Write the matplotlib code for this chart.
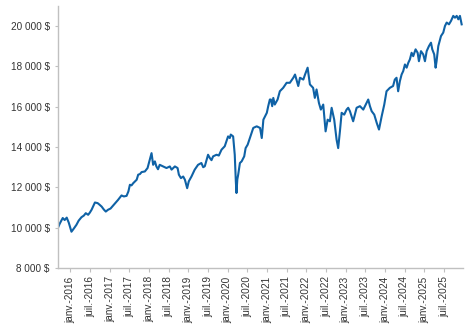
import matplotlib
matplotlib.use("Agg")
import matplotlib.pyplot as plt
import matplotlib.ticker as mticker
import pandas as pd

# Portfolio value over time (growth of 10 000 $)
dates = [
    "2015-09-07", "2015-09-23", "2015-10-21", "2015-11-08", "2015-11-27", "2015-12-16",
    "2016-01-10", "2016-01-31", "2016-02-25", "2016-03-17", "2016-04-12", "2016-05-04",
    "2016-05-22", "2016-06-13", "2016-06-29", "2016-07-15", "2016-08-15", "2016-09-09",
    "2016-09-25", "2016-10-16", "2016-11-06", "2016-11-24", "2016-12-15", "2017-01-07",
    "2017-01-31", "2017-02-25", "2017-03-18", "2017-04-19", "2017-05-11", "2017-06-05",
    "2017-06-22", "2017-07-06", "2017-07-21", "2017-08-06", "2017-09-07", "2017-09-21",
    "2017-10-07", "2017-10-23", "2017-11-22", "2017-12-17", "2018-01-07", "2018-01-23",
    "2018-02-07", "2018-02-23", "2018-03-09", "2018-03-24", "2018-04-09", "2018-05-10",
    "2018-06-11", "2018-07-12", "2018-07-28", "2018-08-28", "2018-09-22", "2018-10-04",
    "2018-10-23", "2018-11-13", "2018-11-29", "2018-12-20", "2019-01-04", "2019-01-29",
    "2019-02-28", "2019-03-31", "2019-05-01", "2019-05-18", "2019-06-02", "2019-07-02",
    "2019-07-18", "2019-08-03", "2019-08-18", "2019-09-19", "2019-10-10", "2019-11-04",
    "2019-12-04", "2020-01-04", "2020-01-20", "2020-01-29", "2020-02-20", "2020-03-02",
    "2020-03-06", "2020-03-16", "2020-03-22", "2020-03-30", "2020-04-07", "2020-04-23",
    "2020-05-09", "2020-06-02", "2020-06-15", "2020-07-04", "2020-07-25", "2020-08-25",
    "2020-09-26", "2020-10-27", "2020-11-12", "2020-11-27", "2020-12-29", "2021-01-11",
    "2021-01-26", "2021-02-05", "2021-02-17", "2021-02-27", "2021-03-13", "2021-04-08",
    "2021-04-29", "2021-05-30", "2021-07-01", "2021-07-31", "2021-09-01", "2021-09-17",
    "2021-10-17", "2021-11-02", "2021-12-03", "2021-12-19", "2022-01-12", "2022-02-02",
    "2022-03-04", "2022-03-20", "2022-04-05", "2022-04-27", "2022-05-15", "2022-06-06",
    "2022-06-28", "2022-07-17", "2022-08-07", "2022-08-23", "2022-09-16", "2022-10-08",
    "2022-10-23", "2022-11-08", "2022-11-24", "2022-12-18", "2023-01-09", "2023-01-24",
    "2023-02-09", "2023-03-11", "2023-04-12", "2023-05-13", "2023-06-13", "2023-07-14",
    "2023-07-29", "2023-08-14", "2023-08-30", "2023-09-23", "2023-10-16", "2023-11-06",
    "2023-12-01", "2023-12-25", "2024-01-15", "2024-02-15", "2024-03-16", "2024-04-01",
    "2024-04-17", "2024-05-02", "2024-05-18", "2024-06-03", "2024-06-18", "2024-07-04",
    "2024-07-20", "2024-08-04", "2024-08-19", "2024-09-04", "2024-09-19", "2024-10-11",
    "2024-10-30", "2024-11-11", "2024-11-30", "2024-12-21", "2025-01-06", "2025-01-22",
    "2025-02-12", "2025-03-03", "2025-03-15", "2025-04-02", "2025-04-15", "2025-04-24",
    "2025-05-10", "2025-06-04", "2025-06-25", "2025-07-11", "2025-07-27", "2025-08-17",
    "2025-09-05", "2025-09-26", "2025-10-12", "2025-10-28", "2025-11-12", "2025-11-27",
    "2025-12-13",
]
values = [
    10000, 10200, 10480, 10380, 10500, 10250,
    9800, 9950, 10140, 10350, 10520, 10600,
    10720, 10640, 10750, 10890, 11250, 11220,
    11150, 11050, 10900, 10800, 10890, 10950,
    11100, 11250, 11380, 11600, 11550, 11580,
    11800, 12130, 12100, 12210, 12380, 12630,
    12660, 12760, 12790, 12960, 13370, 13700,
    13120, 13290, 13040, 12900, 13120, 13040,
    12960, 13040, 12880, 13040, 12960, 12630,
    12460, 12540, 12380, 11960, 12300, 12540,
    12880, 13120, 13210, 13000, 13050, 13620,
    13460, 13350, 13540, 13620, 13580, 13870,
    14040, 14530, 14450, 14620, 14530, 13900,
    13620, 12300, 11720, 12400, 12630, 13210,
    13290, 13540, 13950, 14120, 14450, 14950,
    15030, 14950, 14450, 15360, 15700, 16030,
    16360, 16360, 16030, 16440, 16110, 16360,
    16770, 16940, 17190, 17190, 17440, 17600,
    17030, 17440, 17350, 17600, 17940, 17110,
    16940, 16440, 16860, 16190, 15860, 16110,
    14780, 15360, 15280, 15950, 15360, 14370,
    13950, 14780, 15700, 15610, 15860, 15950,
    15780, 15280, 15950, 16030, 15860, 16190,
    16360, 16030, 15780, 15610, 15200, 14870,
    15530, 16110, 16770, 16940, 17030, 17350,
    17440, 16770, 17270, 17600, 17770, 18100,
    17940, 18180, 18350, 18680, 18510, 18850,
    18680, 18260, 18760, 18600, 18260, 18760,
    19010, 19180, 18850, 18600, 17940, 18260,
    19010, 19510, 19680, 20010, 20180, 20090,
    20260, 20510, 20420, 20510, 20340, 20510,
    20090,
]
y_ticks = [8000, 10000, 12000, 14000, 16000, 18000, 20000]
month_names = {1: "janv.", 7: "juil."}

x = pd.to_datetime(dates)

plt.rcParams["font.family"] = ["Liberation Sans", "DejaVu Sans"]

fig = plt.figure(figsize=(4.70, 3.25), dpi=100)
ax = fig.add_axes([0.1234, 0.1754, 0.8616, 0.8061])

ax.plot(x, values, color="#0f62a6", linewidth=1.5, solid_joinstyle="round")

ax.set_ylim(8000, 21000)
ax.set_yticks(y_ticks)
ax.yaxis.set_major_formatter(
    mticker.FuncFormatter(lambda v, p: f"{int(v):,}".replace(",", " ") + " $")
)

ax.set_xlim(x[0], pd.Timestamp("2025-12-25"))
tick_dates = pd.date_range("2016-01-01", "2025-07-01", freq="6MS")
ax.set_xticks(tick_dates)
ax.set_xticklabels([f"{month_names[d.month]}-{d.year}" for d in tick_dates], rotation=90)

for side in ("top", "right"):
    ax.spines[side].set_visible(False)
for side in ("left", "bottom"):
    ax.spines[side].set_color("#c0c0c0")
    ax.spines[side].set_linewidth(1.0)

ax.tick_params(axis="both", colors="#c0c0c0", labelcolor="#333333", labelsize=7.2,
               length=3, width=0.8)
ax.tick_params(axis="y", pad=4, length=2)
ax.tick_params(axis="x", pad=3)

fig.savefig("out.png", dpi=100)
